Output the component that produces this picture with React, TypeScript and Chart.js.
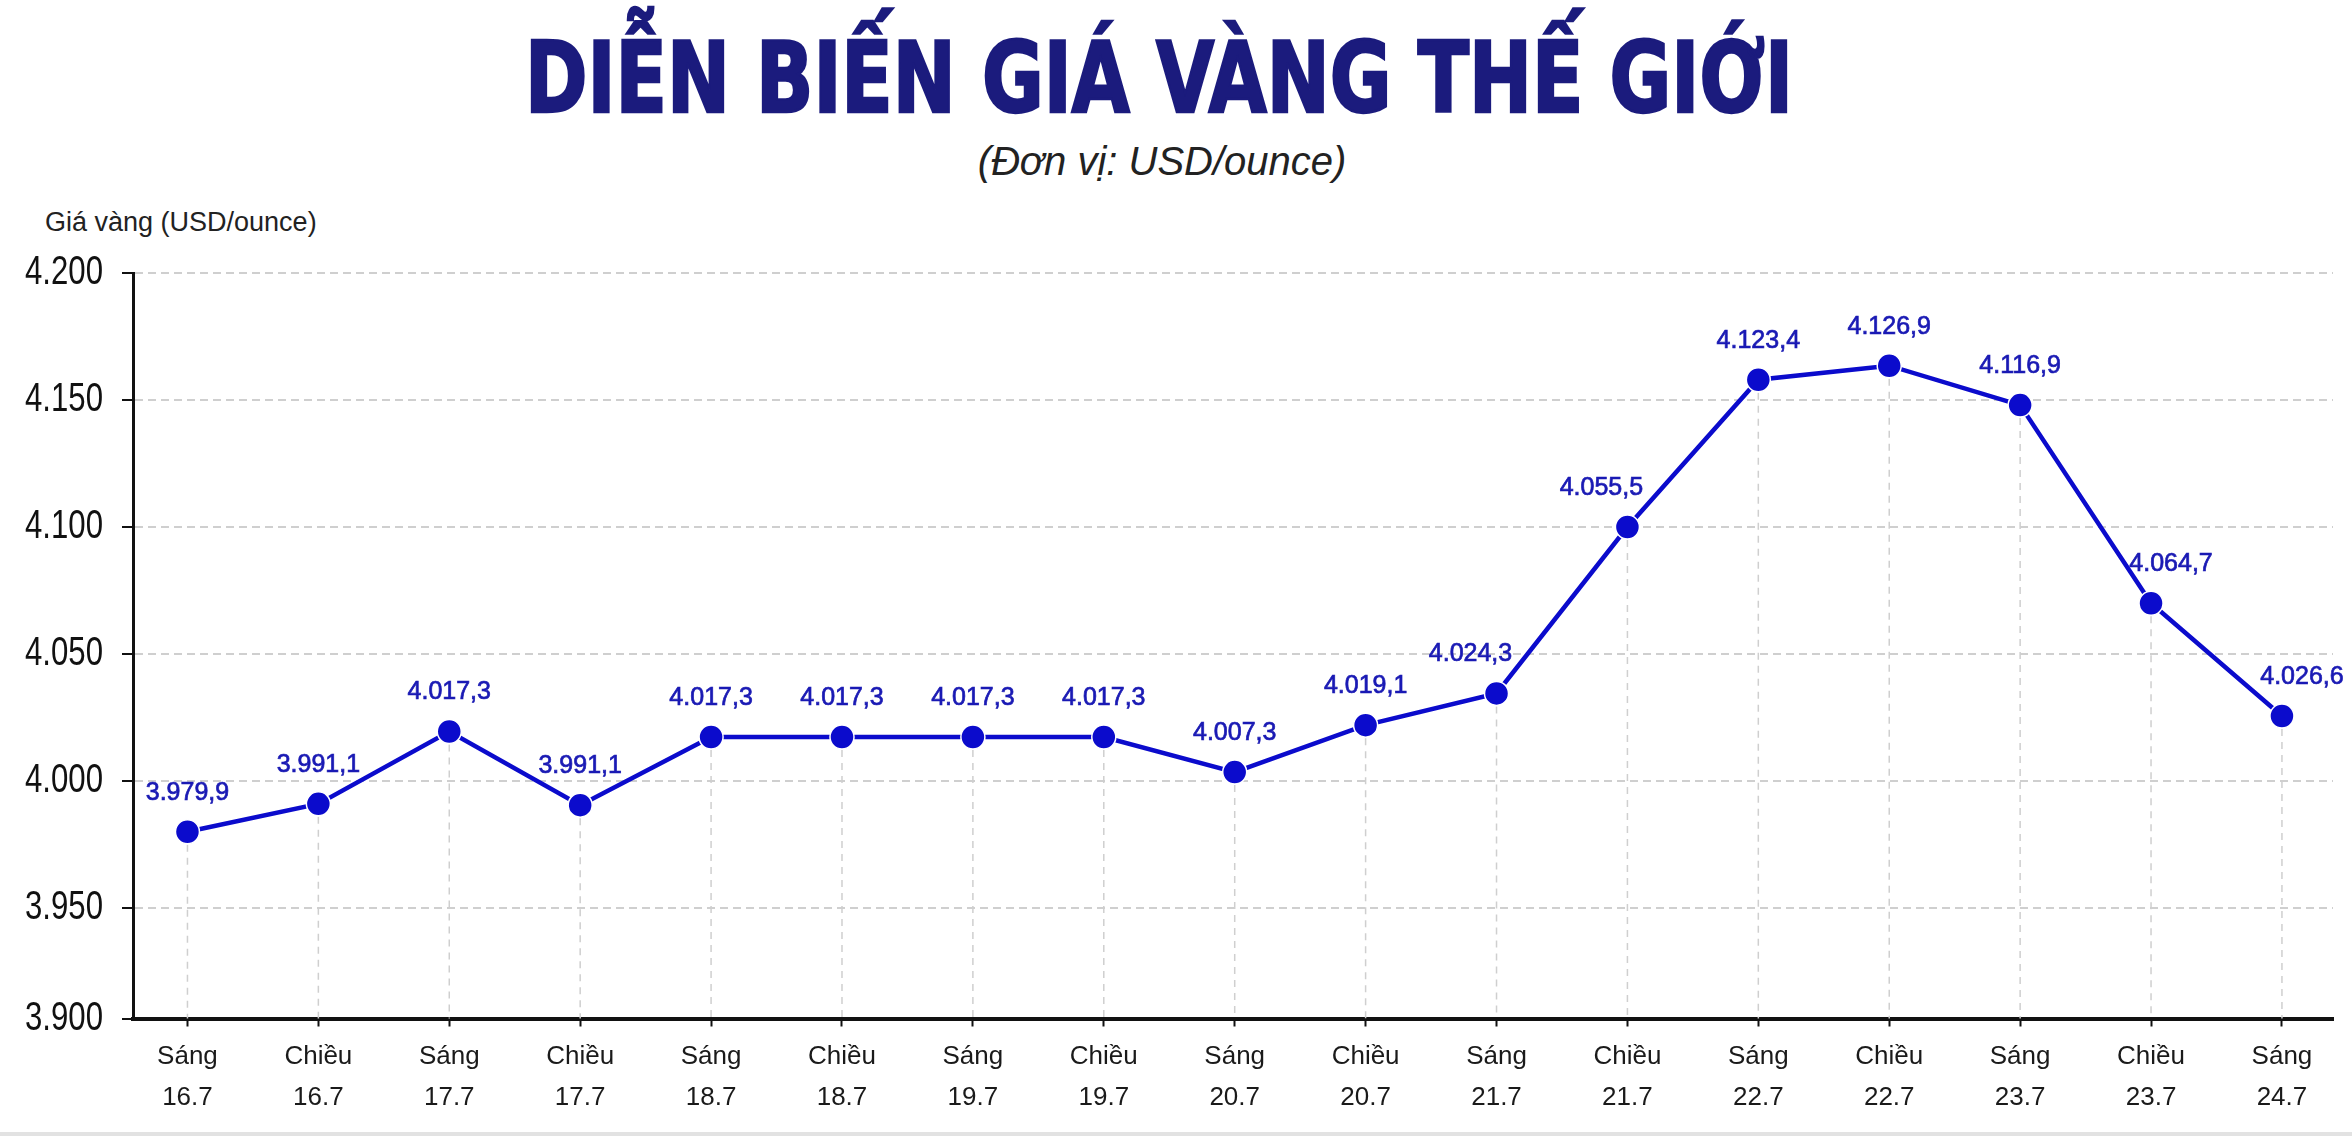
import React, { useEffect, useLayoutEffect, useRef } from "react";
import { Chart, registerables } from "chart.js";

Chart.register(...registerables);

// ---- Data ----
const periods = ["Sáng", "Chiều", "Sáng", "Chiều", "Sáng", "Chiều", "Sáng", "Chiều", "Sáng", "Chiều", "Sáng", "Chiều", "Sáng", "Chiều", "Sáng", "Chiều", "Sáng"];
const dates = ["16.7", "16.7", "17.7", "17.7", "18.7", "18.7", "19.7", "19.7", "20.7", "20.7", "21.7", "21.7", "22.7", "22.7", "23.7", "23.7", "24.7"];
// vertical position of each marker as drawn in the reference
const plottedPrices = [3980, 3991, 4019.5, 3990.5, 4017.3, 4017.3, 4017.3, 4017.3, 4003.5, 4022, 4034.5, 4100, 4158, 4163.5, 4148, 4070, 4025.6];
// printed value labels
const priceLabels = ["3.979,9", "3.991,1", "4.017,3", "3.991,1", "4.017,3", "4.017,3", "4.017,3", "4.017,3", "4.007,3", "4.019,1", "4.024,3", "4.055,5", "4.123,4", "4.126,9", "4.116,9", "4.064,7", "4.026,6"];
const yTickValues = [3950, 4000, 4050, 4100, 4150, 4200];
const yAxisMax = 4200;
const yAxisFloor = 3906.5; // bottom of the drawn axis
const yAxisFloorLabel = "3.900";

const TITLE = "DIỄN BIẾN GIÁ VÀNG THẾ GIỚI";
const SUBTITLE = "(Đơn vị: USD/ounce)";
const Y_TITLE = "Giá vàng (USD/ounce)";

const W = 2352;
const H = 1136;
const SANS = "'Liberation Sans', Arial, sans-serif";
const TITLE_FONT = "'DejaVu Sans Condensed', 'DejaVu Sans', sans-serif";
const BLUE = "#0b0bcc";
const LABEL_BLUE = "#1a1ab4";
const TITLE_WIDTH = 1268;

function fmtThousands(v: number): string {
  const th = Math.floor(v / 1000);
  const rest = Math.round(v - th * 1000);
  return th + "." + String(rest).padStart(3, "0");
}

function yTickText(v: number): string {
  return v === yAxisFloor ? yAxisFloorLabel : fmtThousands(v);
}

const dropLinesPlugin = {
  id: "dropLines",
  beforeDatasetsDraw(chart: any) {
    const { ctx, chartArea } = chart;
    const meta = chart.getDatasetMeta(0);
    ctx.save();
    ctx.strokeStyle = "#cfcfcf";
    ctx.lineWidth = 1.5;
    ctx.setLineDash([7, 6]);
    meta.data.forEach((el: any) => {
      ctx.beginPath();
      ctx.moveTo(el.x, el.y);
      ctx.lineTo(el.x, chartArea.bottom);
      ctx.stroke();
    });
    ctx.restore();
  },
};

// condensed y tick labels (narrow face drawn with a horizontal squeeze)
const yLabelsPlugin = {
  id: "yLabels",
  afterDraw(chart: any) {
    const { ctx } = chart;
    const y = chart.scales.y;
    ctx.save();
    ctx.font = `41px ${SANS}`;
    ctx.fillStyle = "#111";
    ctx.textAlign = "right";
    ctx.textBaseline = "middle";
    y.ticks.forEach((t: any) => {
      const py = y.getPixelForValue(t.value);
      ctx.save();
      ctx.translate(y.right - 30, py);
      ctx.scale(0.76, 1);
      ctx.fillText(yTickText(t.value), 0, 0);
      ctx.restore();
    });
    ctx.restore();
  },
};

const valueLabelsPlugin = {
  id: "valueLabels",
  afterDatasetsDraw(chart: any) {
    const { ctx } = chart;
    const meta = chart.getDatasetMeta(0);
    const pts = meta.data;
    ctx.save();
    ctx.font = `25px ${SANS}`;
    ctx.fillStyle = LABEL_BLUE;
    ctx.strokeStyle = LABEL_BLUE;
    ctx.lineWidth = 0.7;
    ctx.textAlign = "center";
    ctx.textBaseline = "middle";
    pts.forEach((el: any, i: number) => {
      let dx = 0;
      const next = pts[i + 1];
      const prev = pts[i - 1];
      if (next && el.y - next.y > 100) dx -= 26;
      if (prev && el.y - prev.y > 100) dx += 20;
      ctx.fillText(priceLabels[i], el.x + dx, el.y - 39);
      ctx.strokeText(priceLabels[i], el.x + dx, el.y - 39);
    });
    ctx.restore();
  },
};

export default function App() {
  const canvasRef = useRef<HTMLCanvasElement | null>(null);
  const titleRef = useRef<HTMLDivElement | null>(null);

  useLayoutEffect(() => {
    const el = titleRef.current;
    if (!el) return;
    const w = el.offsetWidth;
    if (w > 0) el.style.transform = `translateX(-50%) scaleX(${TITLE_WIDTH / w})`;
  }, []);

  useEffect(() => {
    if (!canvasRef.current) return;
    const chart = new Chart(canvasRef.current, {
      type: "line",
      data: {
        datasets: [
          {
            data: plottedPrices.map((y, i) => ({ x: i, y })),
            borderColor: BLUE,
            borderWidth: 4.5,
            pointRadius: 12,
            pointBackgroundColor: BLUE,
            pointBorderColor: "#ffffff",
            pointBorderWidth: 1.5,
            tension: 0,
            fill: false,
          },
        ],
      },
      options: {
        animation: false,
        responsive: false,
        maintainAspectRatio: false,
        devicePixelRatio: 1,
        layout: { padding: { left: 0, top: 273, right: W - 2333, bottom: 0 } },
        plugins: { legend: { display: false }, tooltip: { enabled: false }, title: { display: false } },
        scales: {
          x: {
            type: "linear",
            min: -0.416,
            max: 16.39,
            afterBuildTicks: (s: any) => {
              s.ticks = periods.map((_, i) => ({ value: i }));
            },
            afterFit: (s: any) => {
              s.height = H - 1018.5;
            },
            ticks: {
              autoSkip: false,
              maxRotation: 0,
              minRotation: 0,
              padding: 10,
              color: "#1a1a1a",
              font: { family: SANS, size: 26, lineHeight: 1.58 },
              callback: (_v: any, i: number) => [periods[i], dates[i]],
            },
            grid: {
              drawOnChartArea: false,
              drawTicks: true,
              tickLength: 8,
              tickColor: "#111",
              tickWidth: 2,
            },
            border: { display: true, color: "#111", width: 4 },
          },
          y: {
            type: "linear",
            min: yAxisFloor,
            max: yAxisMax,
            afterBuildTicks: (s: any) => {
              s.ticks = [yAxisFloor, ...yTickValues].map((v) => ({ value: v }));
            },
            afterFit: (s: any) => {
              s.width = 133;
            },
            ticks: {
              display: false,
            },
            grid: {
              color: "#cfcfcf",
              lineWidth: 2,
              tickLength: 11,
              tickColor: "#111",
              tickWidth: 2,
              tickBorderDash: [],
            },
            border: { display: true, color: "#111", width: 3, dash: [8, 5] },
          },
        },
      },
      plugins: [dropLinesPlugin, valueLabelsPlugin, yLabelsPlugin],
    } as any);
    return () => chart.destroy();
  }, []);

  return (
    <div style={{ position: "absolute", left: 0, top: 0, width: W, height: H, background: "#ffffff", overflow: "hidden" }}>
      <div
        ref={titleRef}
        style={{
          position: "absolute",
          left: 1159,
          top: 29,
          transform: "translateX(-50%)",
          transformOrigin: "50% 50%",
          whiteSpace: "nowrap",
          fontFamily: TITLE_FONT,
          fontWeight: 700,
          fontSize: 98,
          lineHeight: 1,
          color: "#1b1b7d",
          WebkitTextStroke: "2.5px #1b1b7d",
        }}
      >
        {TITLE}
      </div>
      <div
        style={{
          position: "absolute",
          left: 1162,
          top: 141,
          transform: "translateX(-50%)",
          whiteSpace: "nowrap",
          fontFamily: SANS,
          fontStyle: "italic",
          fontSize: 40,
          lineHeight: 1,
          color: "#222",
        }}
      >
        {SUBTITLE}
      </div>
      <div
        style={{
          position: "absolute",
          left: 45,
          top: 209,
          whiteSpace: "nowrap",
          fontFamily: SANS,
          fontSize: 27,
          lineHeight: 1,
          color: "#222",
        }}
      >
        {Y_TITLE}
      </div>
      <canvas ref={canvasRef} width={W} height={H} style={{ position: "absolute", left: 0, top: 0, width: W, height: H }} />
      <div style={{ position: "absolute", left: 0, bottom: 0, width: W, height: 4, background: "#e2e2e2" }} />
    </div>
  );
}
